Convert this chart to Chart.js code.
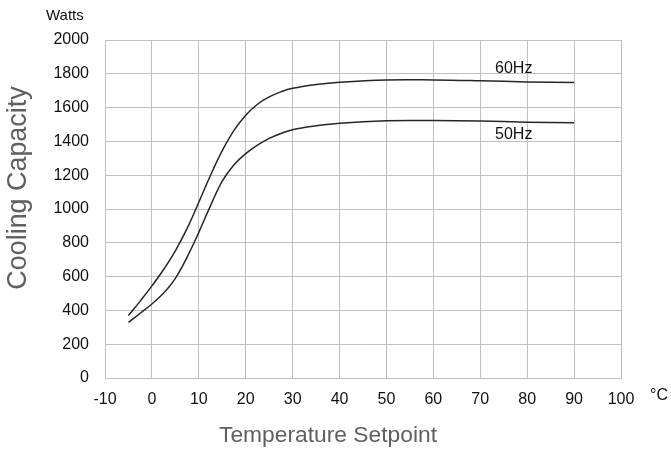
<html>
<head>
<meta charset="utf-8">
<title>Cooling Capacity</title>
<script src="https://cdn.jsdelivr.net/npm/chart.js@4.4.1/dist/chart.umd.min.js"></script>
<style>
body { margin: 0; background: #fff; }
#wrap { position: relative; width: 671px; height: 454px; }
</style>
</head>
<body>
<div id="wrap">
    <canvas id="capChart" width="671" height="454"></canvas>
</div>
<script>
// values
var temps   = [-5, -2.5, 0, 2.5, 5, 7.5, 10, 12.5, 15, 17.5, 20, 22.5, 25, 27.5, 30, 35, 40, 50, 60, 70, 80, 90];
var hz60    = [369, 455, 545, 642, 752, 885, 1040, 1200, 1345, 1465, 1555, 1620, 1663, 1693, 1714, 1736, 1750, 1764, 1764, 1759, 1752, 1748];
var hz50    = [329, 383, 438, 503, 590, 715, 862, 1020, 1165, 1262, 1328, 1378, 1418, 1447, 1469, 1492, 1508, 1522, 1523, 1520, 1514, 1510];
var xTicks  = [-10, 0, 10, 20, 30, 40, 50, 60, 70, 80, 90, 100];
var yTicks  = [0, 200, 400, 600, 800, 1000, 1200, 1400, 1600, 1800, 2000];
var seriesNames = ['60Hz', '50Hz'];
var nameSpots = [[74, 1830], [74, 1440]]; // where the series names sit (data units)

function toPts(vals) {
    return temps.map(function(t, i) { return {x: t, y: vals[i]}; });
}

// shrink/grow a font so the text fills a given width
function fitFont(c, text, width, family) {
    c.font = '20px ' + family;
    let s = 20 * width / c.measureText(text).width;
    c.font = s.toFixed(1) + 'px ' + family;
}

// extra text: unit labels, titles, series names
const textPlugin = {
    id: 'extraText',
    afterDraw(chart) {
        const c = chart.ctx;
        const xs = chart.scales.x, ys = chart.scales.y;
        c.save();
        c.fillStyle = '#111';
        c.font = '15px "Liberation Sans", Arial, sans-serif';
        c.textBaseline = 'middle';
        c.textAlign = 'left';
        c.fillText('Watts', 46, 16);
        c.font = '16px "Liberation Sans", Arial, sans-serif';
        c.fillText('°C', 650, 396);
        for (let i = 0; i < seriesNames.length; i++) {
            c.fillText(seriesNames[i], xs.getPixelForValue(nameSpots[i][0]) - 4, ys.getPixelForValue(nameSpots[i][1]));
        }
        c.fillStyle = '#606060';
        c.textAlign = 'center';
        const fam = '"Liberation Sans", Arial, sans-serif';
        fitFont(c, 'Temperature Setpoint', 218, fam);
        c.fillText('Temperature Setpoint', 328, 436);
        fitFont(c, 'Cooling Capacity', 203, fam);
        c.translate(19, 188);
        c.rotate(-Math.PI / 2);
        c.fillText('Cooling Capacity', 0, 0);
        c.restore();
    }
};

const tickFont = { size: 16, family: '"Liberation Sans", Arial, sans-serif' };

const ctx = document.getElementById('capChart').getContext('2d');
const capChart = new Chart(ctx, {
    type: 'line',
    data: {
        datasets: [
            { label: seriesNames[0], data: toPts(hz60) },
            { label: seriesNames[1], data: toPts(hz50) }
        ]
    },
    options: {
        responsive: false,
        animation: false,
        layout: { padding: { top: 40, right: 50, left: 0, bottom: 0 } },
        elements: {
            line: { borderColor: '#262626', borderWidth: 1.5, tension: 0.4, fill: false },
            point: { radius: 0 }
        },
        plugins: {
            legend: { display: false },
            tooltip: { enabled: false }
        },
        scales: {
            x: {
                type: 'linear',
                min: -10,
                max: 100,
                afterBuildTicks: function(scale) { scale.ticks = xTicks.map(v => ({value: v})); },
                afterFit: function(scale) { scale.height = 76; },
                grid: { color: '#c0c0c0', drawTicks: false },
                border: { color: '#c0c0c0' },
                ticks: { padding: 12, color: '#111', font: tickFont }
            },
            y: {
                min: 0,
                max: 2000,
                afterBuildTicks: function(scale) { scale.ticks = yTicks.map(v => ({value: v})); },
                afterFit: function(scale) { scale.width = 105; },
                grid: { color: '#c0c0c0', drawTicks: false },
                border: { color: '#c0c0c0' },
                ticks: {
                    padding: 16,
                    color: '#111',
                    font: tickFont,
                    callback: function(v) { return String(v); }
                }
            }
        }
    },
    plugins: [textPlugin]
});
</script>
</body>
</html>
